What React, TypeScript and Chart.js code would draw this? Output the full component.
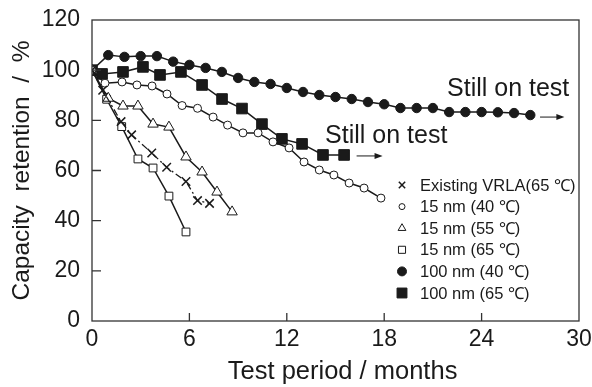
import React, { useEffect, useRef } from 'react';
import { Chart, registerables } from 'chart.js';
import { drawPoint } from 'chart.js/helpers';

Chart.register(...registerables);

// ---- data (months, capacity retention %) ----
const vrlaMonths = [0, 0.66, 1.79, 2.44, 3.68, 4.6, 5.79, 6.5, 7.24];
const vrlaValues = [100, 92, 79.5, 74.2, 67, 61.3, 55.6, 48, 46.9];

const nm15c40Months = [0, 0.8, 1.85, 2.77, 3.7, 4.62, 5.55, 6.5, 7.46, 8.35, 9.3, 10.23, 11.15, 12.14, 13.06, 14.0, 14.9, 15.84, 16.76, 17.8];
const nm15c40Values = [100, 94.8, 95.3, 94.1, 93.7, 90.5, 85.9, 84.8, 81.3, 78.1, 75, 75, 71.4, 69, 63.4, 60.2, 58.2, 55, 53, 49];

const nm15c55Months = [0, 1.0, 1.91, 2.83, 3.76, 4.74, 5.79, 6.78, 7.7, 8.63];
const nm15c55Values = [100, 88.8, 85.7, 85.7, 78.5, 77.3, 65.4, 59.4, 51.4, 43.5];

const nm15c65Months = [0, 0.9, 1.83, 2.83, 3.76, 4.74, 5.79];
const nm15c65Values = [100, 88.4, 77.5, 64.6, 61, 49.8, 35.5];

const nm100c40Months = [0, 1, 2, 3, 4, 5, 6, 7, 8, 9, 10, 11, 12, 13, 14, 15, 16, 17, 18, 19, 20, 21, 22, 23, 24, 25, 26, 27];
const nm100c40Values = [100, 106, 105.3, 105.6, 105.6, 103.4, 102.1, 100.9, 99.3, 96.9, 95.3, 94.5, 92.9, 91.3, 90.1, 89.3, 88.5, 87.3, 86.4, 84.9, 84.9, 84.9, 83.3, 83.3, 83.3, 83.2, 82.9, 82.1];

const nm100c65Months = [0, 0.62, 1.91, 3.14, 4.19, 5.48, 6.78, 8.01, 9.24, 10.47, 11.7, 12.94, 14.23, 15.53];
const nm100c65Values = [100, 98.5, 99.3, 101.3, 98.1, 99.3, 94.1, 88.5, 84.7, 78.5, 72.6, 70.6, 66.2, 66.2];

const seriesLabels = [
  'Existing VRLA(65 \u2103)',
  '15 nm (40 \u2103)',
  '15 nm (55 \u2103)',
  '15 nm (65 \u2103)',
  '100 nm (40 \u2103)',
  '100 nm (65 \u2103)',
];

const xTicks = [0, 6, 12, 18, 24, 30];
const yTicks = [0, 20, 40, 60, 80, 100, 120];

// "Still on test" annotations: [text-left month, baseline %, arrow start month, arrow end month, arrow %]
const noteUpper = [21.87, 89.7, 27.6, 29.1, 81.3];
const noteLower = [14.36, 70.8, 16.3, 17.9, 65.8];

const FONT = '"Liberation Sans", Arial, Helvetica, sans-serif';
const INK = '#1a1a1a';

const pts = (xs: number[], ys: number[]) => xs.map((x, i) => ({ x, y: ys[i] }));

const legendMarkers = [
  { pointStyle: 'crossRot', radius: 4.5, fill: INK, lw: 1.5 },
  { pointStyle: 'circle', radius: 3, fill: '#fff', lw: 1 },
  { pointStyle: 'triangle', radius: 4.5, fill: '#fff', lw: 1 },
  { pointStyle: 'rect', radius: 5, fill: '#fff', lw: 1 },
  { pointStyle: 'circle', radius: 4.5, fill: INK, lw: 1 },
  { pointStyle: 'rect', radius: 7, fill: INK, lw: 1 },
];

const decorPlugin = {
  id: 'decor',
  afterDatasetsDraw(chart: any) {
    const { ctx, chartArea, scales } = chart;
    const xs = scales.x;
    const ys = scales.y;
    ctx.save();
    // frame
    ctx.strokeStyle = '#333';
    ctx.lineWidth = 1.3;
    ctx.strokeRect(chartArea.left, chartArea.top, chartArea.right - chartArea.left, chartArea.bottom - chartArea.top);
    // inward tick marks
    ctx.beginPath();
    xTicks.slice(1, -1).forEach((t) => {
      const px = xs.getPixelForValue(t);
      ctx.moveTo(px, chartArea.bottom);
      ctx.lineTo(px, chartArea.bottom - 8);
    });
    yTicks.slice(1, -1).forEach((t) => {
      const py = ys.getPixelForValue(t);
      ctx.moveTo(chartArea.left, py);
      ctx.lineTo(chartArea.left + 9, py);
    });
    ctx.stroke();

    // annotations
    ctx.fillStyle = INK;
    ctx.strokeStyle = INK;
    ctx.font = `25px ${FONT}`;
    ctx.textBaseline = 'alphabetic';
    ctx.textAlign = 'left';
    [noteUpper, noteLower].forEach((n) => {
      ctx.fillText('Still on test', xs.getPixelForValue(n[0]), ys.getPixelForValue(n[1]));
      const x1 = xs.getPixelForValue(n[2]);
      const x2 = xs.getPixelForValue(n[3]);
      const y = ys.getPixelForValue(n[4]);
      ctx.lineWidth = 1;
      ctx.beginPath();
      ctx.moveTo(x1, y);
      ctx.lineTo(x2 - 6, y);
      ctx.stroke();
      ctx.beginPath();
      ctx.moveTo(x2, y);
      ctx.lineTo(x2 - 8, y - 3);
      ctx.lineTo(x2 - 8, y + 3);
      ctx.closePath();
      ctx.fill();
    });

    // legend
    const lx = chartArea.right - 177;
    const ly0 = chartArea.top + 165;
    const step = 21.6;
    ctx.font = `16.5px ${FONT}`;
    ctx.textBaseline = 'middle';
    seriesLabels.forEach((label, i) => {
      const m = legendMarkers[i];
      const y = ly0 + i * step;
      ctx.fillStyle = m.fill;
      ctx.strokeStyle = INK;
      ctx.lineWidth = m.lw;
      drawPoint(ctx, { pointStyle: m.pointStyle as any, radius: m.radius, borderWidth: m.lw, rotation: 0 }, lx, y);
      ctx.fillStyle = INK;
      ctx.fillText(label, lx + 18, y + 1);
    });
    ctx.restore();
  },
};

export default function App() {
  const ref = useRef<HTMLCanvasElement>(null);
  useEffect(() => {
    document.body.style.margin = '0';
    const canvas = ref.current!;
    const base = { showLine: true, borderColor: INK, pointBorderColor: INK, borderWidth: 1.5, pointBorderWidth: 1 };
    const chart = new Chart(canvas, {
      type: 'scatter',
      data: {
        datasets: [
          { ...base, label: seriesLabels[0], data: pts(vrlaMonths, vrlaValues), pointStyle: 'crossRot', pointRadius: 6, pointBorderWidth: 1.5, pointBackgroundColor: INK, borderDash: [7, 3, 2, 3], borderWidth: 1.3 },
          { ...base, label: seriesLabels[1], data: pts(nm15c40Months, nm15c40Values), pointStyle: 'circle', pointRadius: 4, pointBackgroundColor: '#fff' },
          { ...base, label: seriesLabels[2], data: pts(nm15c55Months, nm15c55Values), pointStyle: 'triangle', pointRadius: 6, pointBackgroundColor: '#fff' },
          { ...base, label: seriesLabels[3], data: pts(nm15c65Months, nm15c65Values), pointStyle: 'rect', pointRadius: 5.5, pointBackgroundColor: '#fff' },
          { ...base, label: seriesLabels[4], data: pts(nm100c40Months, nm100c40Values), pointStyle: 'circle', pointRadius: 4.7, pointBackgroundColor: INK },
          { ...base, label: seriesLabels[5], data: pts(nm100c65Months, nm100c65Values), pointStyle: 'rect', pointRadius: 7.5, pointBackgroundColor: INK },
        ],
      },
      options: {
        responsive: false,
        animation: false,
        devicePixelRatio: 1,
        layout: { padding: { top: 20, right: 13, left: 0, bottom: 0 } },
        plugins: { legend: { display: false }, tooltip: { enabled: false } },
        scales: {
          x: {
            type: 'linear',
            min: 0,
            max: 30,
            afterBuildTicks: (s: any) => { s.ticks = xTicks.map((v) => ({ value: v })); },
            ticks: { padding: 5, color: INK, font: { family: FONT, size: 23 } },
            grid: { display: false, drawTicks: false },
            border: { display: false },
            title: { display: true, text: '  Test period / months', color: INK, font: { family: FONT, size: 25.5, lineHeight: 1 }, padding: { top: 0, bottom: 2.25 } },
            afterFit: (s: any) => { s.height = 66; s.paddingLeft = 0; s.paddingRight = 0; },
          },
          y: {
            type: 'linear',
            min: 0,
            max: 120,
            afterBuildTicks: (s: any) => { s.ticks = yTicks.map((v) => ({ value: v })); },
            ticks: { padding: 12, color: INK, font: { family: FONT, size: 23 } },
            grid: { display: false, drawTicks: false },
            border: { display: false },
            title: { display: true, text: 'Capacity  retention  /  %', color: INK, font: { family: FONT, size: 24.5, lineHeight: 1 }, padding: { top: 10, bottom: 0 } },
            afterFit: (s: any) => { s.width = 92; s.paddingTop = 0; s.paddingBottom = 0; },
          },
        },
      },
      plugins: [decorPlugin],
    } as any);
    return () => chart.destroy();
  }, []);
  return (
    <div style={{ width: 592, height: 387 }}>
      <canvas ref={ref} width={592} height={387} style={{ display: 'block' }} />
    </div>
  );
}
